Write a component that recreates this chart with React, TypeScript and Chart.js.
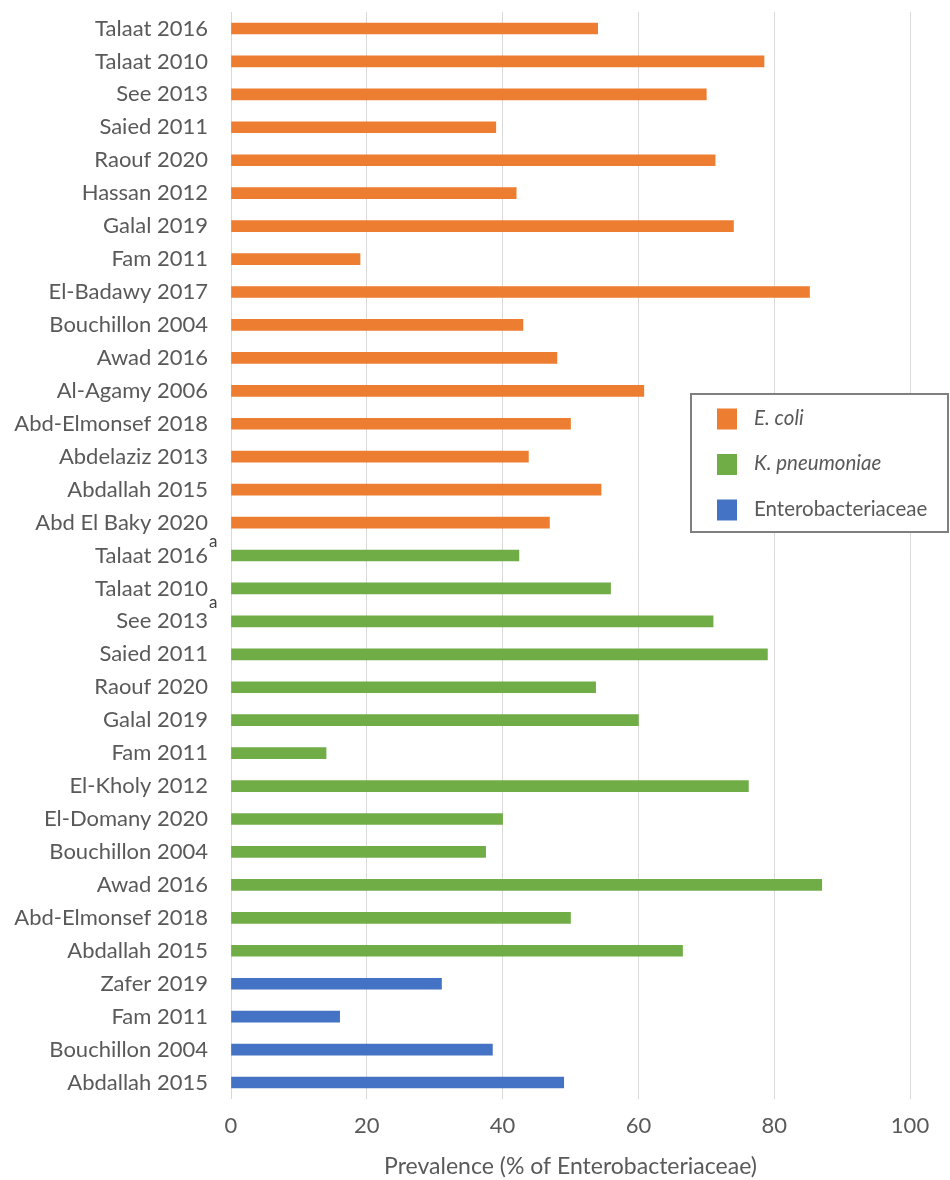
import React, { useEffect, useRef } from "react";
import { Chart, registerables } from "chart.js";

Chart.register(...registerables);

// ---------- data ----------
const studies = [
  "Talaat 2016", "Talaat 2010", "See 2013", "Saied 2011", "Raouf 2020", "Hassan 2012",
  "Galal 2019", "Fam 2011", "El-Badawy 2017", "Bouchillon 2004", "Awad 2016",
  "Al-Agamy 2006", "Abd-Elmonsef 2018", "Abdelaziz 2013", "Abdallah 2015", "Abd El Baky 2020",
  "Talaat 2016", "Talaat 2010", "See 2013", "Saied 2011", "Raouf 2020", "Galal 2019",
  "Fam 2011", "El-Kholy 2012", "El-Domany 2020", "Bouchillon 2004", "Awad 2016",
  "Abd-Elmonsef 2018", "Abdallah 2015",
  "Zafer 2019", "Fam 2011", "Bouchillon 2004", "Abdallah 2015",
];

const ecoliValues = [54, 78.5, 70, 39, 71.3, 42, 74, 19, 85.2, 43, 48, 60.8, 50, 43.8, 54.5, 46.9];
const kpneumoniaeValues = [42.4, 55.9, 71, 79, 53.7, 60, 14, 76.2, 40, 37.5, 87, 50, 66.5];
const enterobacteriaceaeValues = [31, 16, 38.5, 49];

const seriesNames = ["E. coli", "K. pneumoniae", "Enterobacteriaceae"];
const seriesItalic = [true, true, false];
const seriesColors = ["#ED7D31", "#70AD47", "#4472C4"];

const xTickValues = [0, 20, 40, 60, 80, 100];
const xAxisTitle = "Prevalence (% of Enterobacteriaceae)";

// footnote "a" marks on category labels (row index)
const footnoteRows = [16, 18];
const footnoteText = "a";

// ---------- helpers ----------
const FONT = "Lato, 'Open Sans', sans-serif";
const TEXT_COLOR = "#595959";

function buildSeries(values: number[], start: number, total: number) {
  const out: (number | null)[] = new Array(total).fill(null);
  values.forEach((v, i) => {
    out[start + i] = v;
  });
  return out;
}

const legendPlugin = {
  id: "boxLegend",
  afterDraw(chart: any) {
    const ctx = chart.ctx;
    const left = 691;
    const top = 394;
    const w = 257;
    const h = 138;
    ctx.save();
    ctx.fillStyle = "#ffffff";
    ctx.fillRect(left, top, w, h);
    ctx.strokeStyle = "#7F7F7F";
    ctx.lineWidth = 2;
    ctx.strokeRect(left, top, w, h);
    chart.data.datasets.forEach((ds: any, i: number) => {
      const cy = top + 25 + i * 45.5;
      ctx.fillStyle = ds.backgroundColor;
      ctx.fillRect(717, cy - 10.5, 20, 21);
      ctx.fillStyle = TEXT_COLOR;
      ctx.textBaseline = "middle";
      ctx.textAlign = "left";
      ctx.font = `${seriesItalic[i] ? "italic " : ""}20.5px ${FONT}`;
      ctx.fillText(ds.label, 754, cy - 1);
    });
    ctx.restore();
  },
};

const footnotePlugin = {
  id: "footnotes",
  afterDraw(chart: any) {
    const ctx = chart.ctx;
    const yScale = chart.scales.y;
    const offsets: Record<number, number> = { 16: -13.5, 18: -19 };
    ctx.save();
    ctx.fillStyle = "#404040";
    ctx.font = `17px ${FONT}`;
    ctx.textBaseline = "middle";
    ctx.textAlign = "left";
    footnoteRows.forEach((row) => {
      const y = yScale.getPixelForTick(row) + (offsets[row] ?? -14);
      ctx.fillText(footnoteText, 209, y);
    });
    ctx.restore();
  },
};

export default function App() {
  const canvasRef = useRef<HTMLCanvasElement | null>(null);

  useEffect(() => {
    document.body.style.margin = "0";
    const canvas = canvasRef.current;
    if (!canvas) return;
    const total = studies.length;
    const chart = new Chart(canvas, {
      type: "bar",
      data: {
        labels: studies,
        datasets: [
          {
            label: seriesNames[0],
            data: buildSeries(ecoliValues, 0, total),
            backgroundColor: seriesColors[0],
          },
          {
            label: seriesNames[1],
            data: buildSeries(kpneumoniaeValues, ecoliValues.length, total),
            backgroundColor: seriesColors[1],
          },
          {
            label: seriesNames[2],
            data: buildSeries(
              enterobacteriaceaeValues,
              ecoliValues.length + kpneumoniaeValues.length,
              total
            ),
            backgroundColor: seriesColors[2],
          },
        ],
      },
      options: {
        indexAxis: "y",
        animation: false,
        responsive: false,
        maintainAspectRatio: false,
        layout: { padding: { top: 12, right: 40, left: 0, bottom: 0 } },
        datasets: { bar: { grouped: false, barThickness: 11, skipNull: true } },
        plugins: {
          legend: { display: false },
          tooltip: { enabled: false },
          title: { display: false },
        },
        scales: {
          x: {
            min: 0,
            max: 100,
            afterBuildTicks(scale: any) {
              scale.ticks = xTickValues.map((v) => ({ value: v }));
            },
            afterFit(scale: any) {
              scale.height = 81;
            },
            grid: { color: "#D9D9D9", lineWidth: 1, drawTicks: false },
            border: { display: false },
            ticks: {
              color: TEXT_COLOR,
              font: { family: FONT, size: 22 },
              padding: 14,
            },
            title: {
              display: true,
              text: xAxisTitle,
              color: TEXT_COLOR,
              font: { family: FONT, size: 23 },
              padding: { top: 1, bottom: 0 },
            },
          },
          y: {
            afterFit(scale: any) {
              scale.width = 231;
              scale.paddingTop = 0;
              scale.paddingBottom = 0;
            },
            grid: { display: false, drawTicks: false },
            border: { display: false },
            ticks: {
              autoSkip: false,
              color: TEXT_COLOR,
              font: { family: FONT, size: 22 },
              padding: 23,
            },
          },
        },
      },
      plugins: [legendPlugin, footnotePlugin],
    } as any);
    return () => chart.destroy();
  }, []);

  return (
    <div style={{ width: 950, height: 1180, background: "#fff" }}>
      <canvas ref={canvasRef} width={950} height={1180} style={{ display: "block" }} />
    </div>
  );
}
